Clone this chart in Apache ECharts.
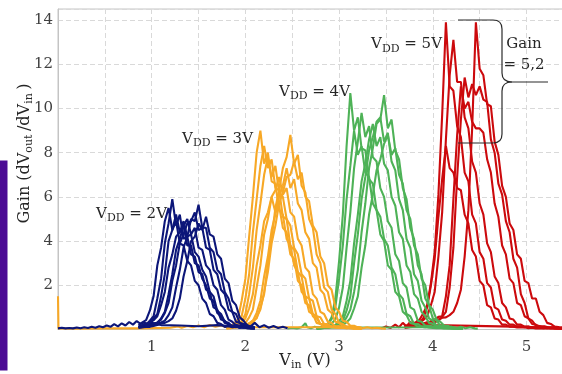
<!DOCTYPE html>
<html>
<head>
<meta charset="utf-8">
<script src="https://cdn.jsdelivr.net/npm/echarts@6/dist/echarts.min.js"></script>
<style>
  html, body { margin: 0; padding: 0; background: #fff; }
  #chart { width: 562px; height: 374px; }
</style>
</head>
<body>
<div id="chart"></div>
<script>
// ---- Input-voltage sample grids (V) for each supply group ----
const blueVin = [0.86,0.90,0.94,0.98,1.02,1.06,1.10,1.14,1.18,1.22,1.26,1.30,1.34,1.38,1.42,1.46,1.50,1.54,1.58,1.62,1.66,1.70,1.74,1.78,1.82,1.86,1.90,1.94,1.98,2.02,2.06,2.10];
const orangeVin = [1.80,1.84,1.88,1.92,1.96,2.00,2.04,2.08,2.12,2.16,2.20,2.24,2.28,2.32,2.36,2.40,2.44,2.48,2.52,2.56,2.60,2.64,2.68,2.72,2.76,2.80,2.84,2.88,2.92,2.96,3.00,3.04,3.08,3.12,3.16,3.20,3.24];
const greenVin = [2.76,2.80,2.84,2.88,2.92,2.96,3.00,3.04,3.08,3.12,3.16,3.20,3.24,3.28,3.32,3.36,3.40,3.44,3.48,3.52,3.56,3.60,3.64,3.68,3.72,3.76,3.80,3.84,3.88,3.92,3.96,4.00,4.04,4.08,4.12,4.16,4.20,4.24,4.28,4.32];
const redVin = [3.70,3.74,3.78,3.82,3.86,3.90,3.94,3.98,4.02,4.06,4.10,4.14,4.18,4.22,4.26,4.30,4.34,4.38,4.42,4.46,4.50,4.54,4.58,4.62,4.66,4.70,4.74,4.78,4.82,4.86,4.90,4.94,4.98,5.02,5.06,5.10,5.14,5.18,5.22,5.26,5.30,5.34,5.38];

// ---- Gain curves, VDD = 2 V ----
const gainVdd2 = [
  [0.12,0.2,0.22,0.4,0.6,1.4,2.3,3.9,4.8,5.9,4.7,5.2,4.1,4.2,3.4,3.3,2.6,2.5,1.8,1.7,1.0,0.9,0.45,0.4,0.2,0.18,0.1,0.14,0.08,0.12,0.07,0.06],
  [0.2,0.32,0.42,0.85,1.5,2.9,3.7,4.9,5.5,4.5,4.9,3.9,3.8,3.1,2.9,2.2,2.0,1.4,1.2,0.7,0.6,0.3,0.25,0.12,0.15,0.1,0.12,0.08,0.1,0.06,0.05,0.05],
  [0.1,0.15,0.22,0.3,0.5,0.7,1.5,2.5,4.0,4.5,5.2,4.4,4.7,3.8,3.8,3.0,2.9,2.3,2.0,1.4,1.3,0.75,0.6,0.3,0.25,0.12,0.15,0.08,0.1,0.1,0.06,0.05],
  [0.1,0.12,0.16,0.2,0.27,0.3,0.5,0.8,1.6,2.5,3.6,4.1,4.7,5.0,4.3,4.6,3.7,3.6,2.9,2.7,2.0,1.8,1.1,0.9,0.45,0.35,0.18,0.18,0.1,0.1,0.06,0.05],
  [0.08,0.1,0.13,0.15,0.22,0.25,0.32,0.4,0.65,1.0,1.9,2.7,3.7,4.2,5.0,4.9,5.65,4.6,4.6,3.7,3.5,2.7,2.5,1.7,1.4,0.8,0.7,0.3,0.25,0.12,0.12,0.08],
  [0.1,0.13,0.15,0.22,0.25,0.32,0.45,0.75,1.2,2.2,2.9,3.9,4.3,4.8,4.9,5.3,4.5,4.6,3.7,3.6,2.7,2.5,1.8,1.6,0.9,0.8,0.35,0.3,0.14,0.14,0.09,0.08],
  [0.08,0.1,0.11,0.12,0.16,0.2,0.27,0.3,0.38,0.5,0.85,1.4,2.4,3.1,4.0,4.2,4.8,4.5,5.1,4.3,4.2,3.4,3.2,2.3,2.1,1.3,1.1,0.55,0.4,0.18,0.14,0.1],
  [0.15,0.2,0.27,0.3,0.42,0.6,1.1,1.7,2.8,3.4,4.2,4.4,4.9,4.2,4.3,3.5,3.3,2.7,2.4,1.7,1.5,0.85,0.7,0.35,0.3,0.14,0.14,0.09,0.09,0.06,0.05,0.05]
];

// ---- Gain curves, VDD = 3 V ----
const gainVdd3 = [
  [0.1,0.15,0.27,0.45,1.3,2.3,4.2,6.0,8.0,9.0,7.5,8.0,6.7,6.6,5.4,5.2,4.1,3.8,2.9,2.6,1.7,1.5,0.8,0.7,0.3,0.25,0.12,0.15,0.1,0.12,0.08,0.1,0.08,0.06,0.08,0.05,0.05],
  [0.1,0.13,0.2,0.32,0.6,1.4,2.5,4.4,5.9,7.4,8.3,7.3,7.7,6.4,6.3,5.1,5.0,3.8,3.6,2.6,2.4,1.5,1.4,0.7,0.6,0.25,0.25,0.12,0.14,0.1,0.08,0.1,0.06,0.08,0.05,0.05,0.05],
  [0.08,0.1,0.16,0.2,0.37,0.7,1.6,2.8,4.5,5.7,7.0,7.8,6.9,7.4,6.2,6.0,5.0,4.7,3.7,3.4,2.5,2.3,1.4,1.3,0.6,0.55,0.25,0.25,0.12,0.14,0.08,0.1,0.07,0.07,0.05,0.05,0.05],
  [0.06,0.08,0.1,0.13,0.15,0.22,0.28,0.4,0.5,1.0,1.6,3.0,4.1,5.5,6.3,7.3,7.8,8.8,7.5,7.9,6.5,6.2,5.0,4.6,3.4,3.0,1.9,1.7,0.9,0.7,0.3,0.25,0.12,0.14,0.09,0.1,0.08],
  [0.05,0.06,0.09,0.1,0.13,0.15,0.22,0.3,0.55,0.9,1.7,2.6,3.9,4.7,5.7,6.2,6.9,7.0,7.6,6.8,7.1,6.0,5.8,4.7,4.4,3.3,3.0,2.0,1.8,1.0,0.8,0.4,0.35,0.17,0.17,0.09,0.08],
  [0.06,0.08,0.11,0.15,0.22,0.3,0.55,0.9,1.9,2.9,4.3,5.0,6.0,6.3,6.9,6.1,6.4,5.3,5.1,4.1,3.8,2.8,2.6,1.6,1.4,0.8,0.7,0.35,0.3,0.13,0.14,0.09,0.09,0.07,0.06,0.06,0.05],
  [0.05,0.06,0.09,0.1,0.13,0.18,0.27,0.4,0.75,1.3,2.4,3.3,4.5,5.2,6.1,6.5,7.3,6.4,6.8,5.7,5.4,4.4,4.1,3.0,2.8,1.8,1.6,0.9,0.75,0.35,0.3,0.13,0.14,0.09,0.09,0.07,0.06],
  [0.08,0.1,0.13,0.18,0.32,0.5,0.95,1.6,2.9,3.8,4.9,5.3,6.0,5.3,5.6,4.6,4.4,3.4,3.2,2.2,2.0,1.2,1.1,0.6,0.5,0.25,0.22,0.12,0.13,0.08,0.09,0.07,0.06,0.06,0.05,0.05,0.05]
];

// ---- Gain curves, VDD = 4 V ----
const gainVdd4 = [
  [0.08,0.1,0.16,0.25,0.55,1.4,3.1,5.2,8.3,10.7,9.0,9.6,8.2,8.1,6.8,6.6,5.4,5.1,4.1,3.8,2.8,2.5,1.6,1.4,0.7,0.6,0.25,0.25,0.13,0.14,0.09,0.1,0.08,0.08,0.06,0.06,0.05,0.05,0.05,0.05],
  [0.05,0.08,0.11,0.15,0.27,0.45,1.0,1.9,3.7,5.3,7.3,8.5,9.8,8.7,9.2,7.8,7.6,6.4,6.0,4.9,4.6,3.4,3.1,2.1,1.9,1.0,0.9,0.4,0.35,0.17,0.17,0.1,0.1,0.08,0.08,0.06,0.06,0.05,0.05,0.05],
  [0.05,0.06,0.09,0.1,0.16,0.2,0.38,0.6,1.3,2.2,3.9,5.2,6.7,7.5,8.6,9.3,8.3,8.7,7.5,7.2,6.0,5.6,4.4,4.1,2.9,2.6,1.6,1.4,0.8,0.6,0.3,0.25,0.13,0.13,0.09,0.09,0.06,0.05,0.05,0.05],
  [0.05,0.05,0.07,0.08,0.11,0.12,0.2,0.3,0.55,0.9,1.7,2.7,4.4,5.7,7.3,8.2,9.3,9.5,10.6,9.1,9.5,8.1,7.7,6.4,5.9,4.6,4.1,2.9,2.5,1.4,1.1,0.5,0.4,0.18,0.17,0.1,0.11,0.07,0.06,0.05],
  [0.08,0.1,0.16,0.25,0.47,1.0,2.3,3.8,5.9,7.4,9.0,7.9,8.3,7.1,6.9,5.7,5.4,4.3,4.0,2.9,2.7,1.7,1.5,0.8,0.65,0.3,0.25,0.13,0.13,0.09,0.09,0.07,0.06,0.06,0.05,0.05,0.05,0.05,0.05,0.05],
  [0.05,0.05,0.07,0.08,0.11,0.12,0.17,0.2,0.33,0.5,0.95,1.5,2.8,3.8,5.2,6.1,7.2,7.7,8.4,8.8,7.9,8.2,7.0,6.6,5.4,5.0,3.8,3.4,2.3,2.0,1.1,0.9,0.45,0.35,0.18,0.17,0.09,0.09,0.06,0.05],
  [0.05,0.06,0.09,0.1,0.13,0.15,0.27,0.4,0.85,1.5,3.0,4.3,5.9,6.9,8.1,8.7,9.4,9.6,8.5,8.9,7.6,7.2,5.9,5.4,4.1,3.7,2.5,2.2,1.3,1.0,0.5,0.4,0.18,0.17,0.09,0.09,0.06,0.05,0.05,0.05]
];

// ---- Gain curves, VDD = 5 V ----
const gainVdd5 = [
  [0.15,0.22,0.25,0.33,0.45,0.75,1.1,2.1,3.5,6.1,9.7,13.9,11.0,10.8,9.2,8.7,7.1,6.7,5.2,4.8,3.5,3.2,2.1,1.9,1.0,0.9,0.45,0.4,0.22,0.22,0.13,0.14,0.1,0.12,0.08,0.1,0.08,0.1,0.06,0.08,0.06,0.05,0.05],
  [0.1,0.16,0.2,0.27,0.3,0.43,0.6,1.1,1.7,3.3,5.3,8.6,11.5,13.1,11.2,11.2,9.6,9.1,7.6,7.1,5.7,5.2,3.9,3.5,2.4,2.1,1.2,1.0,0.5,0.45,0.22,0.22,0.13,0.13,0.09,0.09,0.1,0.06,0.08,0.05,0.06,0.05,0.05],
  [0.08,0.1,0.13,0.15,0.22,0.25,0.33,0.35,0.43,0.45,0.53,0.55,0.65,0.8,1.2,1.8,3.3,5.4,9.1,13.9,11.8,11.5,10.2,10.1,8.5,7.9,6.5,6.0,4.8,4.5,3.4,3.2,2.2,2.1,1.4,1.4,0.8,0.65,0.3,0.25,0.13,0.11,0.08],
  [0.08,0.1,0.11,0.12,0.16,0.18,0.22,0.25,0.33,0.4,0.57,0.8,1.9,3.7,6.9,9.5,11.4,10.5,11.1,10.6,11.0,10.4,10.3,8.6,8.0,6.6,6.1,4.9,4.4,3.2,2.8,1.6,1.2,0.5,0.4,0.18,0.16,0.1,0.09,0.1,0.06,0.05,0.05],
  [0.1,0.13,0.15,0.2,0.2,0.27,0.3,0.38,0.45,0.57,0.6,1.5,2.9,5.9,8.8,11.0,10.0,10.3,9.4,9.1,9.1,8.9,7.7,7.1,5.7,5.1,3.8,3.4,2.3,2.1,1.2,1.1,0.6,0.5,0.25,0.22,0.13,0.13,0.09,0.09,0.06,0.05,0.05],
  [0.12,0.16,0.2,0.27,0.3,0.52,1.0,2.0,3.2,5.1,6.8,8.3,7.3,7.1,6.4,6.3,5.2,4.8,3.6,3.3,2.2,2.0,1.1,1.0,0.5,0.45,0.22,0.22,0.13,0.13,0.09,0.09,0.1,0.06,0.08,0.05,0.06,0.05,0.05,0.05,0.05,0.05,0.05]
];

// ---- Off-transition noise floor of each group, [Vin, gain] ----
const floorVdd2 = [[0,0.05],[0.04,0.08],[0.08,0.05],[0.12,0.07],[0.16,0.05],[0.2,0.09],[0.24,0.06],[0.28,0.1],[0.32,0.07],[0.36,0.12],[0.4,0.08],[0.44,0.15],[0.48,0.1],[0.52,0.18],[0.56,0.12],[0.6,0.24],[0.64,0.14],[0.68,0.28],[0.72,0.18],[0.76,0.34],[0.8,0.22],[0.84,0.38],[0.88,0.26],[0.92,0.32],[0.96,0.22],[1.0,0.3],[1.1,0.2],[1.3,0.18],[1.5,0.15],[1.7,0.2],[1.85,0.15],[1.9,0.22],[1.95,0.12],[2.0,0.25],[2.05,0.12],[2.1,0.3],[2.15,0.1],[2.2,0.2],[2.25,0.08],[2.3,0.16],[2.35,0.07],[2.4,0.12],[2.45,0.06]];
const floorVdd3 = [[0,1.5],[0.005,0.05],[0.2,0.04],[0.5,0.05],[0.8,0.05],[1.0,0.06],[1.2,0.08],[1.28,0.14],[1.32,0.08],[1.38,0.16],[1.44,0.1],[1.5,0.18],[1.56,0.1],[1.62,0.2],[1.68,0.12],[1.74,0.18],[1.8,0.1],[1.9,0.14],[2.1,0.1],[2.6,0.1],[2.9,0.1],[3.0,0.14],[3.05,0.08],[3.1,0.12],[3.15,0.07],[3.2,0.11],[3.25,0.06],[3.3,0.1],[3.35,0.06],[3.4,0.08],[3.45,0.05],[3.5,0.04]];
const floorVdd4 = [[2.45,0.05],[2.5,0.08],[2.55,0.05],[2.6,0.1],[2.64,0.28],[2.66,0.1],[2.7,0.06],[2.74,0.12],[2.78,0.08],[3.9,0.1],[4.0,0.14],[4.05,0.08],[4.1,0.15],[4.15,0.07],[4.2,0.13],[4.25,0.06],[4.3,0.12],[4.35,0.06],[4.4,0.1],[4.45,0.05],[4.48,0.04]];
const floorVdd5 = [[3.45,0.05],[3.5,0.14],[3.55,0.07],[3.6,0.22],[3.64,0.1],[3.68,0.3],[3.72,0.14],[3.76,0.35],[3.8,0.18],[3.84,0.4],[3.88,0.2],[3.92,0.3],[4.0,0.2],[5.0,0.12],[5.1,0.1],[5.2,0.14],[5.25,0.08],[5.3,0.12],[5.35,0.07],[5.4,0.11],[5.45,0.08],[5.5,0.12],[5.55,0.07],[5.6,0.1]];

const supplyLabels = ['2V', '3V', '4V', '5V'];
const xTickLabels = [1, 2, 3, 4, 5];
const yTickLabels = [2, 4, 6, 8, 10, 12, 14];

const FONT = 'DejaVu Serif';
const TEXT = '#262626';

const chart = echarts.init(document.getElementById('chart'), null, { renderer: 'canvas' });

const series = [];
function addGroup(color, vin, curves, floor) {
  const base = {
    type: 'line', showSymbol: false, symbol: 'none', silent: true,
    animation: false, clip: true,
    lineStyle: { color: color, width: 2.1 }
  };
  series.push(Object.assign({}, base, { data: floor }));
  curves.forEach(ys => {
    series.push(Object.assign({}, base, { data: ys.map((g, i) => [vin[i], g]) }));
  });
}
// later groups paint over earlier ones
addGroup('#cc0a0d', redVin, gainVdd5, floorVdd5);
addGroup('#4eb257', greenVin, gainVdd4, floorVdd4);
addGroup('#f7a826', orangeVin, gainVdd3, floorVdd3);
addGroup('#0c1679', blueVin, gainVdd2, floorVdd2);

const vRich = {
  v: { fontFamily: FONT, fontSize: 15, fill: TEXT, lineHeight: 20, verticalAlign: 'middle' },
  s: { fontFamily: FONT, fontSize: 11, fill: TEXT, lineHeight: 10, verticalAlign: 'bottom' }
};
function vddLabel(i, x, y) {
  return {
    type: 'text', x: x, y: y, silent: true, z: 50,
    style: { text: '{v|V}{s|DD}{v| = ' + supplyLabels[i] + '}', rich: vRich, align: 'right', verticalAlign: 'middle' }
  };
}

// curly brace beside the 5 V peaks, built from straight and curved strokes
const braceStyle = { stroke: '#2a2a2a', lineWidth: 1.2, fill: 'none' };
function seg(x1, y1, x2, y2) {
  return { type: 'line', silent: true, z: 50, shape: { x1, y1, x2, y2 }, style: braceStyle };
}
function curve(x1, y1, cpx1, cpy1, cpx2, cpy2, x2, y2) {
  return { type: 'bezierCurve', silent: true, z: 50, shape: { x1, y1, cpx1, cpy1, cpx2, cpy2, x2, y2 }, style: braceStyle };
}
const brace = [
  seg(458, 20, 493, 20),
  curve(493, 20, 499, 20, 502, 23, 502, 29),
  seg(502, 29, 502, 73),
  curve(502, 73, 502, 79, 505, 82, 512, 82),
  seg(512, 82, 548, 82),
  curve(512, 82, 505, 82, 502, 85, 502, 91),
  seg(502, 91, 502, 134),
  curve(502, 134, 502, 140, 499, 143, 493, 143),
  seg(493, 143, 458, 143)
];

const gridLine = { show: true, lineStyle: { color: '#d9d9d9', width: 1, type: [5, 3] } };

chart.setOption({
  animation: false,
  backgroundColor: '#ffffff',
  grid: {
    left: 58, right: -20.7, top: 9, bottom: 44.5,
    show: true, borderColor: '#c4c4c4', borderWidth: 1,
    outerBoundsMode: 'none', containLabel: false
  },
  xAxis: {
    type: 'value', min: 0, max: 5.6, interval: 0.5,
    axisLine: { show: true, lineStyle: { color: '#c4c4c4' } },
    axisTick: { show: false },
    splitLine: gridLine,
    axisLabel: {
      margin: 10, color: '#404040', fontFamily: FONT, fontSize: 15,
      showMaxLabel: false,
      formatter: v => (xTickLabels.indexOf(v) >= 0 ? String(v) : '')
    }
  },
  yAxis: {
    type: 'value', min: 0, max: 14.5, interval: 2,
    axisLine: { show: true, lineStyle: { color: '#c4c4c4' } },
    axisTick: { show: false },
    splitLine: gridLine,
    axisLabel: {
      margin: 5, color: '#404040', fontFamily: FONT, fontSize: 15,
      showMaxLabel: false,
      formatter: v => (yTickLabels.indexOf(v) >= 0 ? String(v) : '')
    }
  },
  series: series,
  graphic: [
    { type: 'rect', silent: true, shape: { x: 0, y: 160.5, width: 7.5, height: 210 }, style: { fill: '#4b0b94' } },
    {
      type: 'text', x: 25, y: 153.5, rotation: Math.PI / 2, silent: true,
      style: {
        text: '{t|Gain (dV}{s|out }{t|/dV}{s|in }{t|)}',
        align: 'center', verticalAlign: 'middle',
        rich: {
          t: { fontFamily: FONT, fontSize: 16, fill: TEXT, lineHeight: 20, verticalAlign: 'middle' },
          s: { fontFamily: FONT, fontSize: 11, fill: TEXT, lineHeight: 10, verticalAlign: 'bottom' }
        }
      }
    },
    {
      type: 'text', x: 305, y: 361, silent: true,
      style: {
        text: '{t|V}{s|in}{t| (V)}',
        align: 'center', verticalAlign: 'middle',
        rich: {
          t: { fontFamily: FONT, fontSize: 16, fill: TEXT, lineHeight: 20, verticalAlign: 'middle' },
          s: { fontFamily: FONT, fontSize: 11, fill: TEXT, lineHeight: 10, verticalAlign: 'bottom' }
        }
      }
    },
    vddLabel(0, 167, 214),
    vddLabel(1, 253, 139),
    vddLabel(2, 350, 92),
    vddLabel(3, 442, 44.5),
    {
      type: 'text', x: 524, y: 55, silent: true, z: 50,
      style: {
        text: 'Gain\n= 5,2', fontFamily: FONT, fontSize: 15, fill: TEXT,
        lineHeight: 21, align: 'center', verticalAlign: 'middle'
      }
    }
  ].concat(brace)
});
</script>
</body>
</html>
